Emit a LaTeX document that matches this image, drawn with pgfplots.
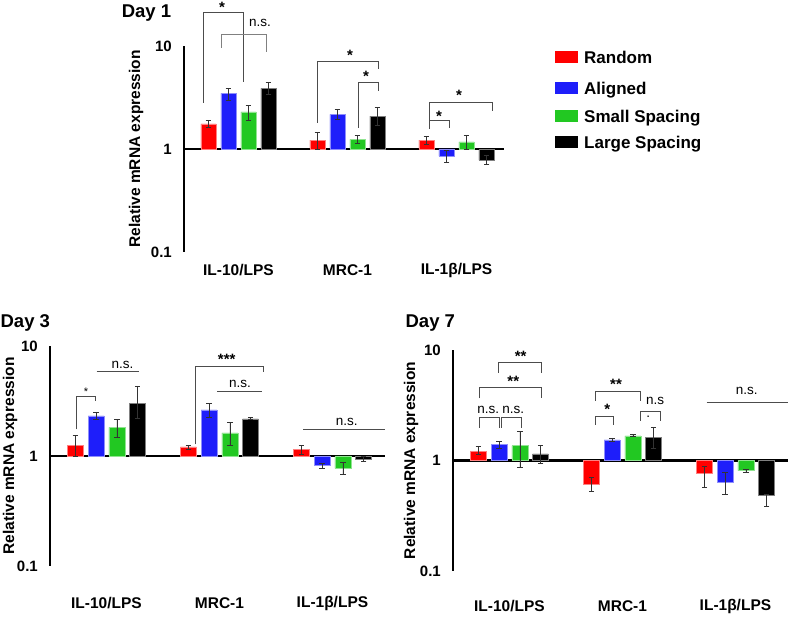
\documentclass[border=0pt]{standalone}
\usepackage{fontspec}
\setmainfont{Liberation Sans}
\usepackage{pgfplots}
\usepackage{pgfplotstable}
\pgfplotsset{compat=1.18}

\definecolor{cRand}{RGB}{255,0,0}
\definecolor{cAlig}{RGB}{30,30,250}
\definecolor{cSmal}{RGB}{34,200,34}
\definecolor{cLarg}{RGB}{0,0,0}

% one row per gene (IL-10/LPS, MRC-1, IL-1b/LPS)
% r = Random, b = Aligned, g = Small Spacing, k = Large Spacing; p/m = error up/down
\pgfplotstableread{
r    rp    rm    b     bp    bm    g    gp    gm    k    kp    km
1.75 0.15  0.12  3.47  0.41  0.48  2.29 0.37  0.38  3.88 0.59  0.51
1.22 0.22  0.22  2.17  0.26  0.23  1.24 0.11  0.10  2.09 0.43  0.38
1.22 0.11  0.11  0.855 0.115 0.105 1.17 0.18  0.17  0.78 0.09  0.07
}\dayone
\pgfplotstableread{
r    rp    rm    b     bp    bm    g    gp    gm    k    kp    km
1.25 0.29  0.25  2.32  0.18  0.15  1.82 0.34  0.34  3.01 1.32  0.81
1.21 0.05  0.06  2.62  0.39  0.37  1.62 0.39  0.37  2.18 0.05  0.04
1.15 0.09  0.11  0.83  0.03  0.05  0.77 0.106 0.084 0.93 0.055 0.04
}\daythree
\pgfplotstableread{
r    rp    rm    b     bp    bm    g    gp    gm    k    kp    km
1.21 0.13  0.08  1.40  0.09  0.10  1.36 0.47  0.49  1.15 0.22  0.20
0.61 0.097 0.085 1.54  0.06  0.06  1.67 0.04  0.03  1.62 0.38  0.32
0.77 0.11  0.196 0.64  0.14  0.15  0.81 0.03  0.03  0.48 0.01  0.095
}\dayseven

\tikzset{
  ebar/.style={black!80, line width=0.6pt},
  emark/.style={rotate=90, mark size=2.8pt, line width=0.6pt, black!80},
}
\pgfplotsset{
  dayaxis/.style={
    scale only axis, clip=false,
    ymin=0.1, ymax=10,
    xmin=-0.5,
    axis lines*=left,
    x axis line style={draw=none},
    y axis line style={line width=2.4pt},
    major tick length=0pt,
    ytick={0.1,10}, yticklabels={0.1,10},
    extra y ticks={1}, extra y tick labels={1},
    extra y tick style={grid=major, major grid style={black, line width=2.4pt}},
    yticklabel style={anchor=east, inner sep=0pt, xshift=-12pt,
      font=\bfseries\fontsize{15}{18}\selectfont},
    xtick={0,1,2}, xticklabels={IL-10/LPS, MRC-1, IL-1β/LPS},
    xticklabel style={anchor=center, inner sep=0pt,
      font=\bfseries\fontsize{15.5}{18}\selectfont},
    ylabel={Relative mRNA expression},
    ylabel style={anchor=center, inner sep=0pt,
      font=\bfseries\fontsize{15.5}{18}\selectfont},
    title style={anchor=west, inner sep=0pt,
      font=\bfseries\fontsize{18.5}{22}\selectfont},
  },
  gbar/.style={ybar, bar width=0.14, fill=#1, draw=#1!50!white, line width=0.5pt},
}

\newcommand{\fourbars}[1]{%
  \addplot[gbar=cRand, error bars/.cd, y dir=both, y explicit, error bar style=ebar, error mark options=emark]
    table[x expr=\coordindex-0.275, y=r, y error plus=rp, y error minus=rm] {#1};
  \addplot[gbar=cAlig, error bars/.cd, y dir=both, y explicit, error bar style=ebar, error mark options=emark]
    table[x expr=\coordindex-0.092, y=b, y error plus=bp, y error minus=bm] {#1};
  \addplot[gbar=cSmal, error bars/.cd, y dir=both, y explicit, error bar style=ebar, error mark options=emark]
    table[x expr=\coordindex+0.092, y=g, y error plus=gp, y error minus=gm] {#1};
  \addplot[gbar=cLarg, error bars/.cd, y dir=both, y explicit, error bar style=ebar, error mark options=emark]
    table[x expr=\coordindex+0.275, y=k, y error plus=kp, y error minus=km] {#1};
}

\begin{document}
\begin{tikzpicture}
\useasboundingbox (0,0) rectangle (790pt,618pt);

% Day 1
\begin{axis}[ymode=log, dayaxis, anchor=south west, at={(184pt,366pt)}, width=320pt, height=206pt, xmax=2.436,
    xticklabel style={yshift=-18pt},
    ylabel style={at={(axis description cs:-0.150,0.5)}},
    title={Day 1}, title style={at={(axis description cs:-0.195,1.131)}}]
  \fourbars{\dayone}
\end{axis}

% Day 3
\begin{axis}[ymode=log, dayaxis, anchor=south west, at={(50pt,52pt)}, width=335pt, height=220pt, xmax=2.465,
    xticklabel style={yshift=-37pt},
    ylabel style={at={(axis description cs:-0.119,0.5)}},
    title={Day 3}, title style={at={(axis description cs:-0.148,1.077)}}]
  \fourbars{\daythree}
\end{axis}

% Day 7
\begin{axis}[ymode=log, dayaxis, anchor=south west, at={(453pt,47pt)}, width=335pt, height=221pt, xmax=2.465,
    xticklabel style={yshift=-35pt},
    ylabel style={at={(axis description cs:-0.125,0.5)}},
    title={Day 7}, title style={at={(axis description cs:-0.142,1.096)}}]
  \fourbars{\dayseven}
\end{axis}

% legend and significance brackets, in image pixel coordinates (y down)
\begin{scope}[x=1pt, y=-1pt, yshift=618pt,
    br/.style={line width=0.9pt, black!70},
    st/.style={anchor=north, inner sep=0pt, font=\bfseries\fontsize{15}{15}\selectfont},
    sst/.style={anchor=north, inner sep=0pt, font=\fontsize{11}{11}\selectfont},
    ns/.style={inner sep=0pt, font=\fontsize{13.5}{14}\selectfont},
    lg/.style={anchor=base west, inner sep=0pt, font=\bfseries\fontsize{17}{20}\selectfont}]
  % legend
  \fill[cRand] (555,51) rectangle (578,63);
  \node[lg] at (584,63.3) {Random};
  \fill[cAlig] (555,82) rectangle (578,94);
  \node[lg] at (584,94.3) {Aligned};
  \fill[cSmal] (555,110) rectangle (578,122);
  \node[lg] at (584,122.3) {Small Spacing};
  \fill[cLarg] (555,136) rectangle (578,148);
  \node[lg] at (584,148.3) {Large Spacing};
  % Day 1
  \draw[br] (203,103) -- (203,12) -- (243,12) -- (243,82);
  \node[st] at (222,2) {*};
  \draw[br, black!50] (221,48) -- (221,34) -- (266,34) -- (266,52);
  \node[ns] at (260,23) {n.s.};
  \draw[br] (317,123) -- (317,61.7) -- (378,61.7) -- (378,69);
  \node[st] at (350,50) {*};
  \draw[br] (358,128) -- (358,82.7) -- (378,82.7) -- (378,91);
  \node[st] at (366,71) {*};
  \draw[br] (429,120) -- (429,102.7) -- (492,102.7) -- (492,111);
  \node[st] at (459,90) {*};
  \draw[br] (429,129) -- (429,120) -- (449,120) -- (449,128);
  \node[st] at (439,111) {*};
  % Day 3
  \draw[br] (76.7,429.3) -- (76.7,396) -- (95.7,396) -- (95.7,400.7);
  \node[sst] at (86,388) {*};
  \draw[br] (96.7,371.7) -- (139.3,371.7);
  \node[ns] at (122.5,365) {n.s.};
  \draw[br] (195,444.3) -- (195,366.7) -- (263.3,366.7) -- (263.3,371.7);
  \node[st] at (226.7,354) {***};
  \draw[br] (217.3,391.3) -- (261.7,391.3);
  \node[ns] at (240,384) {n.s.};
  \draw[br] (303.3,429.3) -- (385,429.3);
  \node[ns] at (346.7,421.7) {n.s.};
  % Day 7
  \draw[br] (498.3,372.7) -- (498.3,362.3) -- (541.7,362.3) -- (541.7,372.7);
  \node[st] at (520.7,351) {**};
  \draw[br] (479.3,398.3) -- (479.3,387.7) -- (541.7,387.7) -- (541.7,398.3);
  \node[st] at (513.3,376) {**};
  \draw[br] (479.3,427.7) -- (479.3,417.7) -- (499.3,417.7) -- (499.3,427.7);
  \node[ns] at (488.3,410) {n.s.};
  \draw[br] (501.7,427.7) -- (501.7,417.7) -- (521.7,417.7) -- (521.7,427.7);
  \node[ns] at (513.3,410) {n.s.};
  \draw[br] (595,400.7) -- (595,391) -- (640,391) -- (640,400.7);
  \node[st] at (616,379) {**};
  \draw[br] (595,425) -- (595,416) -- (613.3,416) -- (613.3,425);
  \node[st] at (607.3,404) {*};
  \draw[br] (640.7,420.7) -- (640.7,411.7) -- (660,411.7) -- (660,420.7);
  \node[ns] at (655,401) {n.s};
  \node[ns] at (648.3,417) {.};
  \draw[br] (706.7,402.3) -- (788.3,402.3);
  \node[ns] at (746.7,391) {n.s.};
\end{scope}
\end{tikzpicture}
\end{document}
